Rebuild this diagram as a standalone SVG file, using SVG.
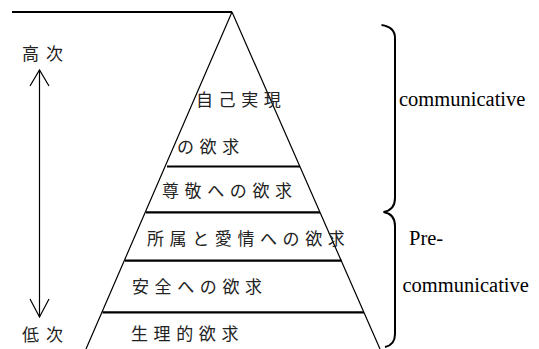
<svg xmlns="http://www.w3.org/2000/svg" width="539" height="349" viewBox="0 0 539 349">
<style>
.bg{fill:#fff}
.side{stroke:#000;stroke-width:1.2;fill:none}
.tier{stroke:#000;stroke-width:2.2;fill:none}
.brace{stroke:#000;stroke-width:2;fill:none}
.jp{font-family:"Noto Sans CJK JP","Noto Sans CJK SC",sans-serif;font-size:17px;letter-spacing:5.6px;fill:#222}
.en{font-family:"Liberation Serif",serif;font-size:20.5px;fill:#000}
</style>
<rect class="bg" width="539" height="349"/>
<g id="pyramid">
<path class="tier" d="M12 12 H232"/>
<path class="side" d="M232 12 L86 349 M232 12 L380 349"/>
</g>
<g id="connectors">
<path class="tier" d="M167 166.5 H300 M146 212.3 H320 M125 260.7 H341.7 M102.5 312.3 H364"/>
<path class="side" d="M39.5 70 V317"/>
<path class="side" d="M30 86 L39.5 70 L49 86 M30 299 L39.5 317 L49 299"/>
</g>
<g id="level-self"><text class="jp" x="196" y="105.5">自己実現</text><text class="jp" x="177" y="152.5">の欲求</text></g>
<g id="level-esteem"><text class="jp" x="162" y="197">尊敬への欲求</text></g>
<g id="level-love"><text class="jp" x="147" y="245">所属と愛情への欲求</text></g>
<g id="level-safety"><text class="jp" x="132" y="293">安全への欲求</text></g>
<g id="level-phys"><text class="jp" x="131" y="339.5">生理的欲求</text></g>
<g id="high"><text class="jp" x="22" y="60" style="letter-spacing:7px">高次</text></g>
<g id="low"><text class="jp" x="22" y="340.5" style="letter-spacing:7px">低次</text></g>
<g id="braces">
<path class="brace" d="M381.5 25 Q395 27 395 38 V198 Q395 210 383.5 212 Q395 214 395 226 V334 Q395 345 385 347"/>
</g>
<g id="labels">
<text class="en" x="399" y="106">communicative</text>
<text class="en" x="409" y="245">Pre-</text>
<text class="en" x="402.5" y="291.5">communicative</text>
</g>
</svg>
